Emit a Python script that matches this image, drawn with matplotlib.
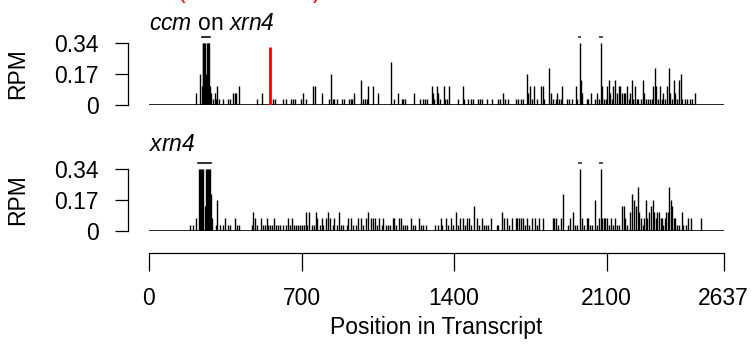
import matplotlib
matplotlib.use("Agg")
import matplotlib.pyplot as plt

plt.rcParams["font.family"] = ["Liberation Sans", "DejaVu Sans"]
plt.rcParams["mathtext.fontset"] = "custom"
plt.rcParams["mathtext.it"] = "Liberation Sans:italic"
plt.rcParams["mathtext.rm"] = "Liberation Sans:italic"
plt.rcParams["mathtext.default"] = "it"

# transcript length and axis labels
transcript_len = 2637
x_ticks = [0, 700, 1400, 2100, 2637]
y_ticks = [0, 0.17, 0.34]
y_ticklabels = ["0", "0.17", "0.34"]
y_max = 0.34

# cleavage site marked in red (top panel)
site_pos = 556
site_rpm = 0.318

# ccm on xrn4 (top panel): positions and RPM (0.41 = off scale)
top_pos = [
    214, 234, 242, 247, 250, 254, 257, 262, 265, 269, 272, 275, 280, 285, 292,
    303, 309, 314, 320, 338, 363, 372, 386, 393, 399, 412, 494, 517, 568, 580,
    617, 629, 651, 662, 670, 698, 707, 721, 752, 762, 793, 826, 836, 843, 851,
    862, 887, 895, 918, 926, 933, 941, 972, 984, 992, 999, 1007, 1027, 1053,
    1111, 1126, 1143, 1160, 1168, 1175, 1218, 1244, 1259, 1269, 1278, 1298,
    1302, 1308, 1321, 1328, 1336, 1354, 1359, 1367, 1379, 1417, 1440, 1446,
    1466, 1477, 1489, 1512, 1520, 1527, 1550, 1573, 1604, 1611, 1624, 1634,
    1650, 1685, 1695, 1706, 1718, 1734, 1741, 1749, 1757, 1769, 1780, 1798,
    1807, 1813, 1836, 1846, 1853, 1867, 1875, 1882, 1890, 1897, 1918, 1928,
    1941, 1959, 1966, 1976, 1982, 1989, 2009, 2017, 2028, 2048, 2058, 2065,
    2074, 2080, 2089, 2097, 2104, 2111, 2117, 2124, 2132, 2139, 2147, 2155,
    2162, 2170, 2178, 2185, 2193, 2201, 2208, 2217, 2223, 2233, 2239, 2246,
    2257, 2268, 2274, 2281, 2292, 2298, 2308, 2312, 2322, 2328, 2338, 2345,
    2354, 2361, 2369, 2377, 2386, 2392, 2400, 2409, 2415, 2423, 2433, 2441,
    2448, 2461, 2471, 2484, 2494, 2507,
]
top_rpm = [
    0.068, 0.17, 0.102, 0.41, 0.41, 0.41, 0.41, 0.17, 0.41, 0.41, 0.41, 0.41, 0.102, 0.068, 0.034,
    0.068, 0.034, 0.102, 0.034, 0.034, 0.034, 0.034, 0.068, 0.068, 0.068, 0.102, 0.034, 0.068, 0.034, 0.034,
    0.034, 0.034, 0.034, 0.034, 0.034, 0.034, 0.068, 0.034, 0.102, 0.102, 0.068, 0.034, 0.17, 0.034, 0.034,
    0.034, 0.034, 0.034, 0.034, 0.034, 0.034, 0.068, 0.136, 0.034, 0.034, 0.034, 0.102, 0.102, 0.068,
    0.238, 0.034, 0.068, 0.034, 0.034, 0.034, 0.068, 0.034, 0.034, 0.034, 0.034, 0.102,
    0.068, 0.034, 0.102, 0.068, 0.034, 0.102, 0.034, 0.034, 0.102, 0.034, 0.102, 0.034,
    0.034, 0.034, 0.034, 0.034, 0.034, 0.034, 0.034, 0.034, 0.034, 0.034, 0.068, 0.034,
    0.034, 0.034, 0.034, 0.034, 0.034, 0.17, 0.068, 0.102, 0.034, 0.102, 0.034, 0.102,
    0.102, 0.034, 0.204, 0.068, 0.034, 0.034, 0.068, 0.034, 0.034, 0.102, 0.034, 0.034,
    0.034, 0.102, 0.034, 0.41, 0.136, 0.068, 0.034, 0.034, 0.068, 0.034, 0.068, 0.034,
    0.41, 0.102, 0.034, 0.034, 0.102, 0.136, 0.068, 0.034, 0.102, 0.136, 0.068, 0.102,
    0.102, 0.068, 0.068, 0.068, 0.102, 0.034, 0.068, 0.136, 0.034, 0.102, 0.034, 0.034,
    0.034, 0.136, 0.068, 0.034, 0.034, 0.034, 0.034, 0.102, 0.204, 0.102, 0.034, 0.102,
    0.034, 0.068, 0.034, 0.102, 0.204, 0.068, 0.034, 0.136, 0.068, 0.034, 0.136, 0.17,
    0.034, 0.034, 0.034, 0.034, 0.034, 0.068,
]

# xrn4 (bottom panel)
bottom_pos = [
    188, 201, 216, 231, 235, 240, 245, 249, 256, 260, 265, 269, 274, 281, 285,
    291, 308, 314, 326, 338, 349, 361, 372, 396, 403, 415, 471, 479, 487, 494,
    514, 525, 533, 540, 548, 556, 563, 574, 582, 591, 601, 614, 628, 638, 647,
    658, 666, 675, 685, 693, 701, 712, 721, 727, 736, 747, 758, 767, 773, 785,
    793, 800, 813, 823, 831, 843, 851, 862, 872, 880, 892, 908, 915, 926, 938,
    950, 961, 973, 984, 996, 1007, 1018, 1027, 1036, 1045, 1057, 1068, 1076,
    1088, 1099, 1106, 1119, 1125, 1134, 1146, 1156, 1165, 1174, 1183, 1201,
    1211, 1221, 1240, 1247, 1259, 1272, 1314, 1325, 1339, 1345, 1364, 1374,
    1386, 1394, 1409, 1420, 1428, 1440, 1451, 1459, 1470, 1478, 1492, 1504,
    1516, 1527, 1538, 1547, 1558, 1569, 1596, 1604, 1622, 1630, 1642, 1654,
    1665, 1684, 1691, 1699, 1706, 1716, 1726, 1737, 1746, 1757, 1772, 1783,
    1792, 1809, 1853, 1861, 1869, 1879, 1890, 1898, 1925, 1933, 1945, 1956,
    1963, 1977, 1987, 1997, 2009, 2017, 2025, 2032, 2048, 2055, 2065, 2074,
    2080, 2089, 2095, 2104, 2113, 2120, 2129, 2139, 2150, 2159, 2170, 2178,
    2185, 2196, 2208, 2219, 2227, 2234, 2244, 2251, 2259, 2267, 2273, 2280,
    2288, 2297, 2305, 2312, 2318, 2328, 2334, 2341, 2349, 2355, 2361, 2367,
    2374, 2380, 2387, 2395, 2401, 2409, 2416, 2424, 2432, 2446, 2453, 2465,
    2473, 2487, 2534,
]
bottom_rpm = [
    0.034, 0.034, 0.068, 0.41, 0.41, 0.41, 0.41, 0.41, 0.136, 0.41, 0.41, 0.41, 0.41, 0.41, 0.204,
    0.068, 0.034, 0.17, 0.034, 0.034, 0.068, 0.034, 0.034, 0.068, 0.034, 0.034, 0.034, 0.102, 0.068, 0.034,
    0.068, 0.034, 0.034, 0.068, 0.034, 0.034, 0.034, 0.068, 0.034, 0.034, 0.034, 0.034, 0.034, 0.068, 0.034,
    0.068, 0.034, 0.034, 0.034, 0.034, 0.034, 0.034, 0.102, 0.034, 0.102, 0.034, 0.034, 0.102, 0.068, 0.034,
    0.068, 0.034, 0.068, 0.102, 0.068, 0.034, 0.068, 0.034, 0.102, 0.034, 0.034, 0.034, 0.068, 0.068, 0.034,
    0.034, 0.068, 0.068, 0.034, 0.068, 0.102, 0.068, 0.068, 0.068, 0.034, 0.068, 0.034, 0.068,
    0.034, 0.034, 0.034, 0.068, 0.068, 0.034, 0.068, 0.068, 0.034, 0.034, 0.034, 0.068,
    0.034, 0.034, 0.068, 0.034, 0.034, 0.034, 0.034, 0.034, 0.068, 0.034, 0.068, 0.034,
    0.068, 0.034, 0.102, 0.034, 0.068, 0.068, 0.034, 0.068, 0.068, 0.034, 0.136, 0.068,
    0.034, 0.068, 0.034, 0.034, 0.034, 0.068, 0.034, 0.034, 0.102, 0.068, 0.068, 0.034,
    0.068, 0.068, 0.068, 0.068, 0.068, 0.068, 0.034, 0.068, 0.034, 0.068, 0.068, 0.034,
    0.068, 0.068, 0.068, 0.068, 0.068, 0.034, 0.068, 0.204, 0.034, 0.068, 0.102, 0.034,
    0.034, 0.41, 0.068, 0.034, 0.068, 0.068, 0.034, 0.034, 0.17, 0.034, 0.068, 0.41,
    0.068, 0.068, 0.068, 0.068, 0.034, 0.068, 0.034, 0.068, 0.034, 0.034, 0.136, 0.136,
    0.068, 0.034, 0.102, 0.204, 0.17, 0.136, 0.238, 0.102, 0.068, 0.034, 0.068, 0.17,
    0.068, 0.102, 0.136, 0.17, 0.102, 0.068, 0.102, 0.102, 0.068, 0.068, 0.034, 0.068,
    0.102, 0.102, 0.238, 0.17, 0.136, 0.068, 0.068, 0.034, 0.034, 0.102, 0.034, 0.034,
    0.068, 0.068, 0.068,
]

FS = 16.5
fig = plt.figure(figsize=(7.51, 3.46), dpi=100)
ax_top = fig.add_axes([0.1984, 0.6965, 0.765, 0.2107])
ax_bot = fig.add_axes([0.1984, 0.3332, 0.765, 0.2107])


def draw_panel(ax, pos, rpm):
    shown = [min(v, y_max) for v in rpm]
    ax.vlines(pos, 0, shown, color="black", linewidth=1.0)
    # small dash above the bars that run off the scale
    over = [p for p, v in zip(pos, rpm) if v > y_max]
    ax.hlines([y_max * 1.1] * len(over), [p - 9 for p in over], [p + 9 for p in over],
              color="#333333", linewidth=1.2)
    ax.hlines(0, 0, transcript_len, color="black", linewidth=1.2)
    ax.set_xlim(0, transcript_len)
    ax.set_ylim(0, 0.40)
    for side in ["top", "right", "bottom"]:
        ax.spines[side].set_visible(False)
    ax.spines["left"].set_position(("outward", 15))
    ax.spines["left"].set_bounds(0, y_max)
    ax.spines["left"].set_linewidth(0.9)
    ax.set_yticks(y_ticks)
    ax.set_yticklabels(y_ticklabels, fontsize=FS)
    ax.tick_params(axis="y", length=9.4, width=0.9, pad=12)
    ax.set_xticks([])


draw_panel(ax_top, top_pos, top_rpm)
ax_top.vlines(site_pos, 0, site_rpm, color="#FF0000", linewidth=2.0)
draw_panel(ax_bot, bottom_pos, bottom_rpm)

# x axis under the lower panel
ax_bot.spines["bottom"].set_visible(True)
ax_bot.spines["bottom"].set_position(("outward", 15.7))
ax_bot.spines["bottom"].set_bounds(0, transcript_len)
ax_bot.spines["bottom"].set_linewidth(0.9)
ax_bot.set_xticks(x_ticks)
ax_bot.set_xticklabels([str(t) for t in x_ticks], fontsize=FS)
ax_bot.tick_params(axis="x", length=13, width=0.9, pad=12)
ax_bot.set_xlabel("Position in Transcript", fontsize=FS, labelpad=4)

# panel titles and y labels
fig.text(0.1984, 1 - 23 / 346, r"$ccm$ on $xrn4$", fontsize=FS,
         ha="left", va="center")
fig.text(0.1984, 1 - 145 / 346, r"$xrn4$", fontsize=FS, ha="left", va="center")
fig.text(18 / 751, 1 - 74 / 346, "RPM", fontsize=FS, rotation=90, ha="center", va="center")
fig.text(18 / 751, 1 - 200 / 346, "RPM", fontsize=FS, rotation=90, ha="center", va="center")

# red heading, cut off by the top edge as in the source figure
fig.text(249 / 751, 1 + 2 / 346, "(                    )", fontsize=FS,
         color="#FF0000", ha="center", va="baseline")

fig.savefig("out.png", dpi=100)
